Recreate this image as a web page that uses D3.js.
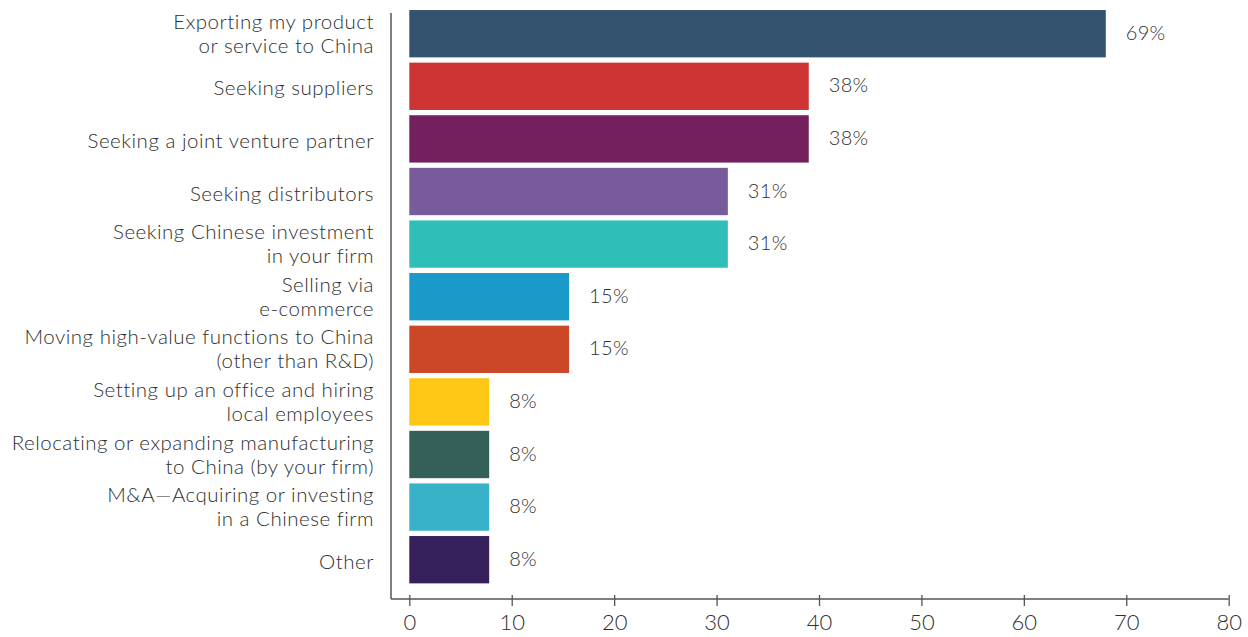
<!DOCTYPE html>
<html>
<head>
<meta charset="utf-8">
<script src="https://cdn.jsdelivr.net/npm/d3@7"></script>
<style>
  body { margin: 0; background: #fff; }
  svg text { font-family: Lato, "Open Sans", sans-serif; fill: #2f2f2f; font-weight: 300; }
</style>
</head>
<body>
<svg id="chart" width="1248" height="637"></svg>
<script>
var categories = [
    ["Exporting my product", "or service to China"],
    ["Seeking suppliers"],
    ["Seeking a joint venture partner"],
    ["Seeking distributors"],
    ["Seeking Chinese investment", "in your firm"],
    ["Selling via", "e-commerce"],
    ["Moving high-value functions to China", "(other than R&D)"],
    ["Setting up an office and hiring", "local employees"],
    ["Relocating or expanding manufacturing", "to China (by your firm)"],
    ["M&A\u2014Acquiring or investing", "in a Chinese firm"],
    ["Other"]
];
var values = [68.0, 39.0, 39.0, 31.1, 31.1, 15.6, 15.6, 7.8, 7.8, 7.8, 7.8];
var valueLabels = ["69%", "38%", "38%", "31%", "31%", "15%", "15%", "8%", "8%", "8%", "8%"];
var colours = ["#34536f", "#cf3434", "#74205e", "#775b9b", "#30bfb8", "#1a9ac8",
               "#cc4628", "#fec615", "#35605a", "#37b2c9", "#37215c"];
var xTicks = [0, 10, 20, 30, 40, 50, 60, 70, 80];

var svg = d3.select("#chart");
var axisY = 599, axisLeft = 391;

var x = d3.scaleLinear().domain([0, 80]).range([409.3, 1228.7]);
var y = d3.scaleBand()
    .domain(d3.range(categories.length))
    .range([7.4, 586])
    .paddingInner(0.1)
    .paddingOuter(0.05);

// bars
svg.selectAll(".bar")
    .data(values)
  .enter()
    .append("rect")
    .attr("class", "bar")
    .attr("x", x(0))
    .attr("y", function(d, i) { return y(i); })
    .attr("width", function(d) { return x(d) - x(0); })
    .attr("height", y.bandwidth())
    .attr("fill", function(d, i) { return colours[i]; });

// value labels
svg.selectAll(".val")
    .data(values)
  .enter()
    .append("text")
    .attr("class", "val")
    .attr("x", function(d) { return x(d) + 20; })
    .attr("y", function(d, i) { return y(i) + y.bandwidth() / 2 - 1; })
    .attr("dy", "0.35em")
    .style("font-size", "20px")
    .style("letter-spacing", "0.3px")
    .text(function(d, i) { return valueLabels[i]; });

// category labels
var lineH = 24;
svg.selectAll(".cat")
    .data(categories)
  .enter()
    .append("text")
    .attr("class", "cat")
    .attr("text-anchor", "end")
    .style("font-size", "20.5px")
    .style("letter-spacing", "0.5px")
    .each(function(lines, i) {
        var cy = y(i) + y.bandwidth() / 2 + (lines.length > 1 ? 0 : 2);
        var top = cy - (lines.length - 1) * lineH / 2;
        d3.select(this).selectAll("tspan")
            .data(lines)
          .enter()
            .append("tspan")
            .attr("x", 374)
            .attr("y", function(d, j) { return top + j * lineH; })
            .attr("dy", "0.35em")
            .text(function(d) { return d; });
    });

// axes
svg.append("line")
    .attr("x1", axisLeft).attr("x2", axisLeft)
    .attr("y1", 13).attr("y2", axisY)
    .attr("stroke", "#555").attr("stroke-width", 1.5);

var xAxis = svg.append("g")
    .attr("transform", "translate(0," + axisY + ")")
    .call(d3.axisBottom(x).tickValues(xTicks).tickSize(7).tickPadding(8));
xAxis.select(".domain").remove();
xAxis.append("line")
    .attr("x1", axisLeft).attr("x2", x(80))
    .attr("stroke", "#555").attr("stroke-width", 1.5);
xAxis.selectAll(".tick line")
    .attr("y1", -4)
    .attr("stroke", "#555").attr("stroke-width", 1.3);
xAxis.selectAll(".tick text")
    .style("font-family", "Lato, sans-serif")
    .style("font-weight", "300")
    .style("font-size", "22px")
    .attr("fill", "#2f2f2f");
</script>
</body>
</html>
